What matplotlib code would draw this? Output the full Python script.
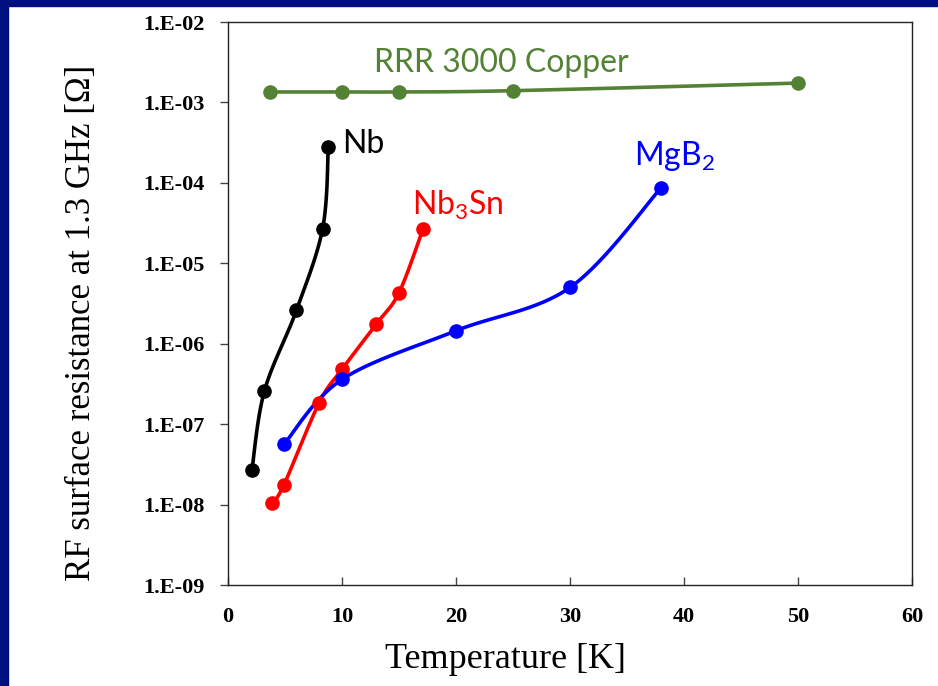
import numpy as np
import matplotlib
matplotlib.use("Agg")
import matplotlib.pyplot as plt
from matplotlib.ticker import FixedLocator, FuncFormatter, NullLocator

plt.rcParams["mathtext.fontset"] = "custom"
plt.rcParams["mathtext.rm"] = "Lato"
plt.rcParams["mathtext.it"] = "Lato:italic"
plt.rcParams["mathtext.bf"] = "Lato:bold"

# ---- data ----
cu_T = [3.7, 10, 15, 25, 50]
cu_R = [1.35e-3, 1.35e-3, 1.35e-3, 1.4e-3, 1.74e-3]

nb_T = [2.1, 3.2, 6.0, 8.3, 8.8]
nb_R = [2.7e-8, 2.6e-7, 2.6e-6, 2.7e-5, 2.8e-4]

nb3sn_T = [3.9, 4.9, 8.0, 10, 13, 15, 17.1]
nb3sn_R = [1.05e-8, 1.75e-8, 1.85e-7, 4.8e-7, 1.75e-6, 4.3e-6, 2.65e-5]

mgb2_T = [4.9, 10, 20, 30, 38]
mgb2_R = [5.6e-8, 3.6e-7, 1.45e-6, 5.0e-6, 8.7e-5]

x_ticks = [0, 10, 20, 30, 40, 50, 60]
y_exps = [-9, -8, -7, -6, -5, -4, -3, -2]

W, H = 938, 686
fig = plt.figure(figsize=(W / 100, H / 100), dpi=100)
fig.patch.set_facecolor("white")

# navy frame strips (top and left)
navy = "#000F7F"
fig.patches.append(plt.Rectangle((0, 1 - 6 / H), 1, 6 / H, transform=fig.transFigure,
                                 color=navy, zorder=0))
fig.patches.append(plt.Rectangle((0, 0), 8 / W, 1, transform=fig.transFigure,
                                 color=navy, zorder=0))

x0, x1 = 228, 912
y_top, y_bot = 22, 585
ax = fig.add_axes([x0 / W, 1 - y_bot / H, (x1 - x0) / W, (y_bot - y_top) / H])
ax.set_yscale("log")
ax.set_xlim(0, 60)
ax.set_ylim(1e-9, 1e-2)

serif = "Liberation Serif"


def smooth(T, R, n=30):
    """Excel-like smoothed line through the points (in axis-linear space)."""
    xs = np.asarray(T, float) / 60.0
    ys = (np.log10(np.asarray(R, float)) + 9) / 7.0
    P = np.column_stack([xs, ys])
    m = len(P)
    out = [P[0]]
    for i in range(m - 1):
        p0 = P[i - 1] if i > 0 else P[i]
        p1, p2 = P[i], P[i + 1]
        p3 = P[i + 2] if i + 2 < m else P[i + 1]
        c1 = p1 + (p2 - p0) / 6.0
        c2 = p2 - (p3 - p1) / 6.0
        t = np.linspace(0, 1, n)[1:, None]
        seg = ((1 - t) ** 3) * p1 + 3 * ((1 - t) ** 2) * t * c1 + 3 * (1 - t) * t ** 2 * c2 + t ** 3 * p2
        out.extend(seg)
    out = np.array(out)
    return out[:, 0] * 60.0, 10 ** (out[:, 1] * 7.0 - 9)


series = [
    (cu_T, cu_R, "#548235"),
    (nb_T, nb_R, "black"),
    (nb3sn_T, nb3sn_R, "#FF0000"),
    (mgb2_T, mgb2_R, "#0000FF"),
]
for T, R, c in series:
    sx, sy = smooth(T, R)
    ax.plot(sx, sy, color=c, lw=2.6, solid_capstyle="round", zorder=3)
    ax.plot(T, R, "o", color=c, ms=9.5, zorder=4)

# axes styling
for s in ax.spines.values():
    s.set_linewidth(1.0)
    s.set_color("#222222")
ax.xaxis.set_major_locator(FixedLocator(x_ticks))
ax.yaxis.set_major_locator(FixedLocator([10.0 ** e for e in y_exps]))
ax.yaxis.set_minor_locator(NullLocator())
ax.yaxis.set_major_formatter(FuncFormatter(lambda v, p: "1.E-%02d" % round(-np.log10(v))))
ax.tick_params(axis="x", direction="in", length=6, width=1, pad=16, color="#444444")
ax.tick_params(axis="y", direction="out", length=6, width=1, pad=11, color="#444444")
for lab in ax.get_xticklabels() + ax.get_yticklabels():
    lab.set_fontfamily(serif)
    lab.set_fontweight("bold")
    lab.set_fontsize(16)

ax.set_xlabel("Temperature [K]", fontfamily=serif, fontsize=26)
ax.xaxis.label.set_verticalalignment("center")
ax.xaxis.set_label_coords((505 - x0) / (x1 - x0), (y_bot - 660) / (y_bot - y_top))
ax.set_ylabel("RF surface resistance at 1.3 GHz [Ω]", fontfamily=serif, fontsize=25)
ax.yaxis.label.set_verticalalignment("center")
ax.yaxis.set_label_coords((82 - x0) / (x1 - x0), (y_bot - 323) / (y_bot - y_top))

# in-plot labels
sans = "Lato"
ax.text(12.8, 2.39e-3, "RRR 3000 Copper", color="#548235", fontsize=23, fontfamily=sans,
        ha="left", va="baseline")
ax.text(10.0, 2.35e-4, "Nb", color="black", fontsize=23, fontfamily=sans,
        ha="left", va="baseline")
ax.text(16.1, 3.98e-5, "Nb$_3$Sn", color="#FF0000", fontsize=23, fontfamily=sans,
        ha="left", va="baseline")
ax.text(35.6, 1.67e-4, "MgB$_2$", color="#0000FF", fontsize=23, fontfamily=sans,
        ha="left", va="baseline")

fig.savefig("out.png", dpi=100, facecolor=fig.get_facecolor())
